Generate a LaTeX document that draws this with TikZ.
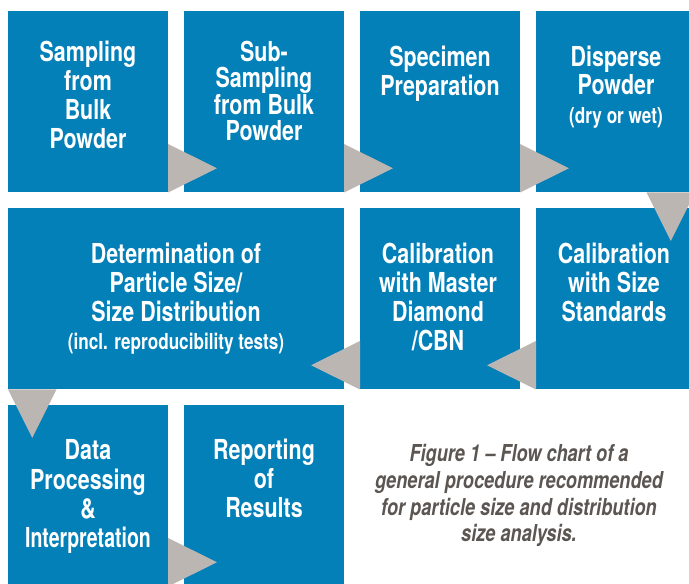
\documentclass[tikz,border=0pt]{standalone}
\usepackage{graphicx}
\usepackage{fontspec}
\newfontfamily\cond{TeX Gyre Heros}[FakeStretch=0.78,Ligatures=TeX]
\definecolor{boxblue}{HTML}{0480B9}
\definecolor{arrgray}{HTML}{BBB6B2}
\definecolor{capgray}{HTML}{5B5652}
\newcommand\boxlines[1]{\begin{tabular}[t]{@{}c@{}}#1\end{tabular}}
\newcommand\smalltxt[1]{{\fontsize{22}{24}\selectfont #1}}
\begin{document}
\begin{tikzpicture}[x=1pt,y=1pt,
  box/.style={rectangle, fill=boxblue, draw=none, minimum width=160pt,
    minimum height=181.5pt, inner sep=0pt, outer sep=0pt, anchor=north west},
  bigbox/.style={box, minimum width=336pt},
  lbl/.style={text=white, anchor=base, inner sep=0pt,
    font=\cond\bfseries\fontsize{27.5}{29}\selectfont},
  captxt/.style={text=capgray, anchor=base, inner sep=0pt,
    font=\cond\bfseries\itshape\fontsize{23.3}{26.7}\selectfont},
  arr/.style={fill=arrgray, draw=none}]
\useasboundingbox (0,0) rectangle (689,584);
\fill[white] (0,0) rectangle (689,584);

% row 1
\node[box] (b1) at (8,573) {};
\node[box] (b2) at (184,573) {};
\node[box] (b3) at (360,573) {};
\node[box] (b4) at (536,573) {};
% row 2
\node[bigbox] (c1) at (8,376) {};
\node[box] (c2) at (360,376) {};
\node[box] (c3) at (536,376) {};
% row 3
\node[box] (d1) at (8,179) {};
\node[box] (d2) at (184,179) {};

% labels
\node[lbl] (t1) at (88,522.3) {\boxlines{Sampling\\from\\Bulk\\Powder}};
\node[lbl] (t2) at (264,522.3) {\boxlines{Sub-\\[-2.9pt]Sampling\\[-2.9pt]from Bulk\\[-2.9pt]Powder}};
\node[lbl] (t3) at (440,517.3) {\boxlines{Specimen\\[-0.7pt]Preparation}};
\node[lbl] (t4) at (616,517.3) {\boxlines{Disperse\\[-0.7pt]Powder\\\smalltxt{(dry or wet)}}};
\node[lbl] (u1) at (176,320.7) {\boxlines{Determination of\\Particle Size/\\Size Distribution\\[-0.7pt]\smalltxt{(incl. reproducibility tests)}}};
\node[lbl] (u2) at (438,320.7) {\boxlines{Calibration\\with Master\\Diamond\\/CBN}};
\node[lbl] (u3) at (614,320.7) {\boxlines{Calibration\\with Size\\Standards}};
\node[lbl] (v1) at (88,124) {\boxlines{Data\\Processing\\\&\\\scalebox{0.91}[1]{Interpretation}}};
\node[lbl] (v2) at (264,124) {\boxlines{Reporting\\of\\Results}};

% caption
\node[captxt] (cap) at (519,122.3) {\boxlines{Figure 1 – Flow chart of a\\general procedure recommended\\for particle size and distribution\\size analysis.}};

% arrows (triangles)
\fill[arr] (b1.south east) -- ++(0,48.5) -- ++(49,-24.25) -- cycle;
\fill[arr] (b2.south east) -- ++(0,48.5) -- ++(49,-24.25) -- cycle;
\fill[arr] (b3.south east) -- ++(0,48.5) -- ++(49,-24.25) -- cycle;
\fill[arr] ([xshift=-1pt]b4.south east) -- ++(-48.5,0) -- ++(24.25,-48.5) -- cycle;
\fill[arr] (c3.south west) -- ++(0,48.5) -- ++(-49,-24.25) -- cycle;
\fill[arr] (c2.south west) -- ++(0,48.5) -- ++(-49,-24.25) -- cycle;
\fill[arr] (c1.south west) -- ++(48.5,0) -- ++(-24.25,-48.5) -- cycle;
\fill[arr] (d1.south east) -- ++(0,48.5) -- ++(49,-24.25) -- cycle;
\end{tikzpicture}
\end{document}
